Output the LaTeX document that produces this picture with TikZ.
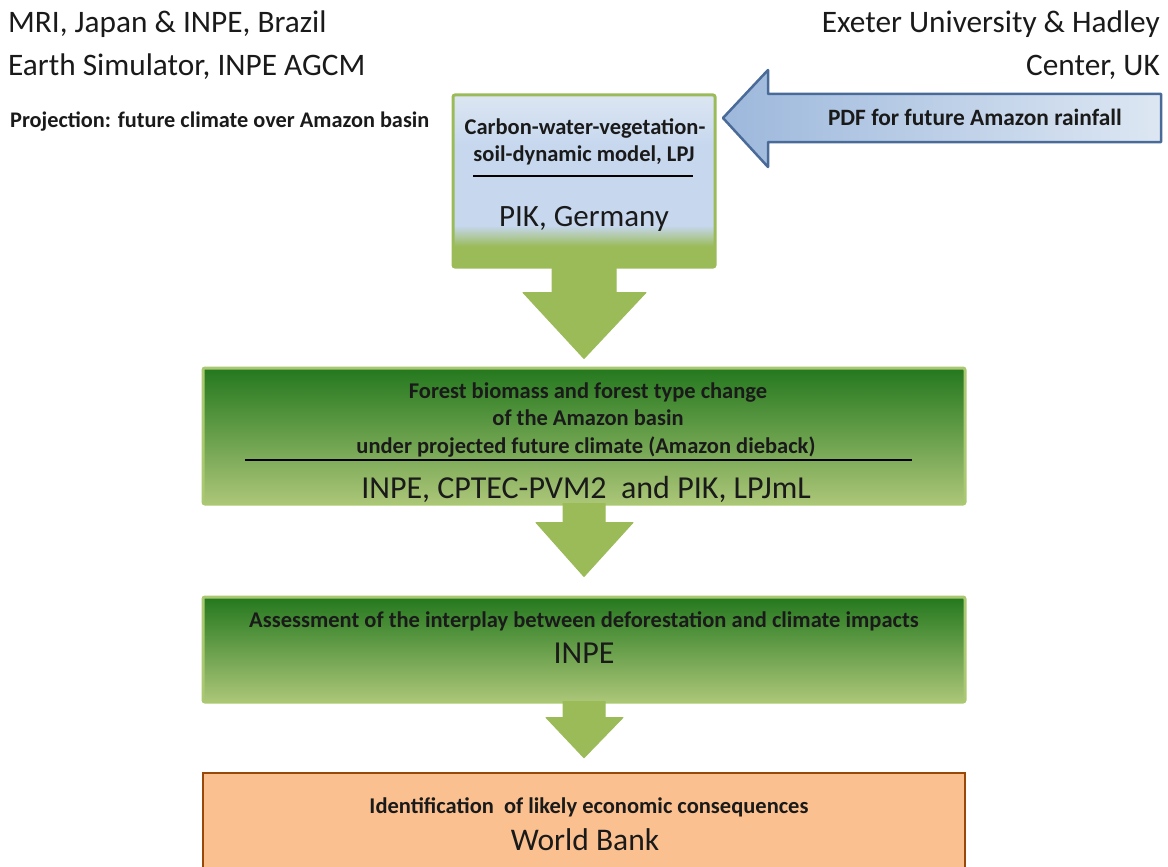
\documentclass[tikz,border=0pt]{standalone}
\usepackage{fontspec}
\setmainfont{Carlito}
\usetikzlibrary{calc}
\definecolor{lpjg}{HTML}{9BBB59}
\definecolor{lpjb}{HTML}{C6D7EE}
\definecolor{lpjt}{HTML}{DCE6F2}
\definecolor{arrg}{HTML}{9BBB59}
\definecolor{boxtop}{RGB}{36,120,30}
\definecolor{boxbot}{RGB}{172,198,120}
\definecolor{boxedge}{HTML}{A9C871}
\definecolor{pdfl}{HTML}{9DB8DC}
\definecolor{pdfr}{HTML}{DDE7F3}
\definecolor{pdfedge}{HTML}{4A6A98}
\definecolor{wbfill}{HTML}{FAC090}
\definecolor{wbedge}{HTML}{984807}
\definecolor{txt}{HTML}{1A1A1A}
\pgfdeclareverticalshading{lpjshade}{100bp}{color(0bp)=(lpjg); color(25bp)=(lpjg); color(31bp)=(lpjg); color(37bp)=(lpjb); color(60bp)=(lpjb); color(75bp)=(lpjt); color(100bp)=(lpjt)}
\tikzset{
  big/.style={font=\fontsize{31.3}{36}\selectfont, text=txt, inner sep=0pt},
  mid/.style={font=\fontsize{31.5}{36}\selectfont, text=txt, inner sep=0pt},
  small/.style={font=\fontsize{22.5}{26}\selectfont\bfseries, text=txt, inner sep=0pt},
  greenbox/.style={draw=boxedge, line width=3pt, rounded corners=2pt, top color=boxtop, bottom color=boxbot, inner sep=0pt},
  downarrow/.style={fill=arrg, draw=arrg, line width=1pt, line join=round},
  sepline/.style={draw=black, line width=2pt},
}
\begin{document}
\begin{tikzpicture}[x=1pt,y=-1pt]
\useasboundingbox (0,0) rectangle (1168,867);
\clip (0,0) rectangle (1168,867);

% header texts
\node[big, anchor=base west] (mri) at (8,33) {MRI, Japan \& INPE, Brazil};
\node[big, anchor=base west] (es) at (8,76) {Earth Simulator, INPE AGCM};
\node[small, font=\fontsize{22.3}{26}\selectfont\bfseries, anchor=base west] (proj) at (10,128) {Projection: future climate over Amazon basin};
\node[big, anchor=base east] (ex) at (1160,33) {Exeter University \& Hadley};
\node[big, anchor=base east] (ct) at (1160,76) {Center, UK};

% LPJ box
\node[draw=lpjg, line width=3pt, rounded corners=2pt, shading=lpjshade, minimum width=262pt, minimum height=172pt, inner sep=0pt] (lpj) at (584,181) {};
\node[small, anchor=base] (lpj1) at (585,134) {Carbon-water-vegetation-};
\node[small, anchor=base] (lpj2) at (584,161) {soil-dynamic model, LPJ};
\coordinate (l1a) at (473,176);
\coordinate (l1b) at (693,176);
\draw[sepline] (l1a) -- (l1b);
\node[mid, font=\fontsize{31}{36}\selectfont, anchor=base] (pik) at (584,226) {PIK, Germany};

% PDF arrow
\coordinate (pt) at (723,118);
\draw[pdfedge, line width=2.5pt, line join=round, left color=pdfl, right color=pdfr]
  (pt) -- (768,70) -- (768,94) -- (1161,94) -- (1161,142) -- (768,142) -- (768,167) -- cycle;
\node[small, font=\fontsize{23.4}{26}\selectfont\bfseries, anchor=base] (pdf) at (975,125) {PDF for future Amazon rainfall};

% Box 2
\node[greenbox, minimum width=762pt, minimum height=136pt] (b2) at (584,436) {};
\node[small, anchor=base] (b2a) at (588,398) {Forest biomass and forest type change};
\node[small, anchor=base] (b2b) at (588,425) {of the Amazon basin};
\node[small, anchor=base] (b2c) at (586,453) {under projected future climate (Amazon dieback)};
\coordinate (l2a) at (245,460);
\coordinate (l2b) at (912,460);
\draw[sepline] (l2a) -- (l2b);
\node[mid, font=\fontsize{32}{36}\selectfont, anchor=base] (b2d) at (586,498) {INPE, CPTEC-PVM2\ \ and PIK, LPJmL};

% Box 3
\node[greenbox, minimum width=762pt, minimum height=105pt] (b3) at (584,649.5) {};
\node[small, anchor=base] (b3a) at (584,627) {Assessment of the interplay between deforestation and climate impacts};
\node[mid, font=\fontsize{32}{36}\selectfont, anchor=base] (b3b) at (584,663) {INPE};

% Box 4
\node[draw=wbedge, line width=2.5pt, fill=wbfill, minimum width=762pt, minimum height=120pt, inner sep=0pt] (b4) at (584,833) {};
\node[small, anchor=base] (b4a) at (589,813) {Identification\ \ of likely economic consequences};
\node[mid, anchor=base] (b4b) at (585,850) {World Bank};

% down arrows
\draw[downarrow] ($(lpj.south)+(-32,-2)$) -- ($(lpj.south)+(-32,24)$) -- ($(lpj.south)+(-61,24)$)
  -- ($(b2.north)+(0,-8)$) -- ($(lpj.south)+(62,24)$) -- ($(lpj.south)+(32,24)$) -- ($(lpj.south)+(32,-2)$) -- cycle;
\draw[downarrow] ($(b2.south)+(-21,-2)$) -- ($(b2.south)+(-21,17)$) -- ($(b2.south)+(-48,17)$)
  -- ($(b3.north)+(0,-19)$) -- ($(b2.south)+(49,17)$) -- ($(b2.south)+(21,17)$) -- ($(b2.south)+(21,-2)$) -- cycle;
\draw[downarrow] ($(b3.south)+(-21,-2)$) -- ($(b3.south)+(-21,14)$) -- ($(b3.south)+(-38,14)$)
  -- ($(b4.north)+(0,-14)$) -- ($(b3.south)+(39,14)$) -- ($(b3.south)+(21,14)$) -- ($(b3.south)+(21,-2)$) -- cycle;
\end{tikzpicture}
\end{document}
